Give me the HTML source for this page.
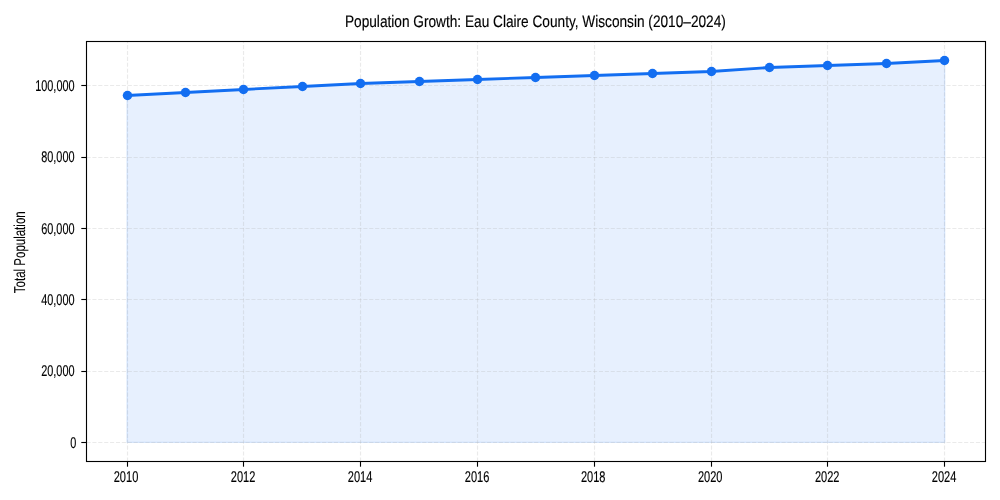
<!DOCTYPE html>
<html><head><meta charset="utf-8"><title>Population Growth</title>
<style>
html,body{margin:0;padding:0;background:#fff;}
body{width:1000px;height:500px;overflow:hidden;}
svg{display:block;will-change:transform;}
text{font-family:"Liberation Sans",sans-serif;fill:#000;stroke:#000;stroke-width:0.15px;text-rendering:geometricPrecision;}
</style></head><body>
<svg width="1000" height="500" viewBox="0 0 1000 500">
<rect x="0" y="0" width="1000" height="500" fill="#ffffff"/>
<polygon points="127.05,442.40 127.05,95.50 185.45,92.50 243.85,89.50 302.25,86.50 360.65,83.50 419.05,81.50 477.45,79.50 535.85,77.50 594.25,75.50 652.65,73.50 711.05,71.50 769.45,67.50 827.85,65.50 886.25,63.50 944.65,60.50 944.65,442.40" fill="#136ef1" fill-opacity="0.1" stroke="#136ef1" stroke-opacity="0.13" stroke-width="1.39" stroke-linejoin="miter"/>
<g stroke="#b0b0b0" stroke-opacity="0.27" stroke-width="1.11" stroke-dasharray="4.11 1.78" fill="none">
<line x1="127.5" y1="461.5" x2="127.5" y2="41.5"/>
<line x1="243.5" y1="461.5" x2="243.5" y2="41.5"/>
<line x1="360.5" y1="461.5" x2="360.5" y2="41.5"/>
<line x1="477.5" y1="461.5" x2="477.5" y2="41.5"/>
<line x1="594.5" y1="461.5" x2="594.5" y2="41.5"/>
<line x1="711.5" y1="461.5" x2="711.5" y2="41.5"/>
<line x1="827.5" y1="461.5" x2="827.5" y2="41.5"/>
<line x1="944.5" y1="461.5" x2="944.5" y2="41.5"/>
<line x1="86.5" y1="442.5" x2="985.5" y2="442.5"/>
<line x1="86.5" y1="371.5" x2="985.5" y2="371.5"/>
<line x1="86.5" y1="299.5" x2="985.5" y2="299.5"/>
<line x1="86.5" y1="228.5" x2="985.5" y2="228.5"/>
<line x1="86.5" y1="157.5" x2="985.5" y2="157.5"/>
<line x1="86.5" y1="85.5" x2="985.5" y2="85.5"/>
</g>
<polyline points="127.05,95.50 185.45,92.50 243.85,89.50 302.25,86.50 360.65,83.50 419.05,81.50 477.45,79.50 535.85,77.50 594.25,75.50 652.65,73.50 711.05,71.50 769.45,67.50 827.85,65.50 886.25,63.50 944.65,60.50" fill="none" stroke="#136ef1" stroke-width="2.78" stroke-linejoin="round" stroke-linecap="butt"/>
<circle cx="127.5" cy="95.5" r="4.75" fill="#136ef1"/>
<circle cx="185.5" cy="92.5" r="4.75" fill="#136ef1"/>
<circle cx="243.5" cy="89.5" r="4.75" fill="#136ef1"/>
<circle cx="302.5" cy="86.5" r="4.75" fill="#136ef1"/>
<circle cx="360.5" cy="83.5" r="4.75" fill="#136ef1"/>
<circle cx="419.5" cy="81.5" r="4.75" fill="#136ef1"/>
<circle cx="477.5" cy="79.5" r="4.75" fill="#136ef1"/>
<circle cx="535.5" cy="77.5" r="4.75" fill="#136ef1"/>
<circle cx="594.5" cy="75.5" r="4.75" fill="#136ef1"/>
<circle cx="652.5" cy="73.5" r="4.75" fill="#136ef1"/>
<circle cx="711.5" cy="71.5" r="4.75" fill="#136ef1"/>
<circle cx="769.5" cy="67.5" r="4.75" fill="#136ef1"/>
<circle cx="827.5" cy="65.5" r="4.75" fill="#136ef1"/>
<circle cx="886.5" cy="63.5" r="4.75" fill="#136ef1"/>
<circle cx="944.5" cy="60.5" r="4.75" fill="#136ef1"/>
<rect x="86.5" y="41.5" width="899.0" height="420.0" fill="none" stroke="#000" stroke-width="1.11"/>
<g stroke="#000" stroke-width="1.11">
<line x1="127.5" y1="461.5" x2="127.5" y2="466.70"/>
<line x1="243.5" y1="461.5" x2="243.5" y2="466.70"/>
<line x1="360.5" y1="461.5" x2="360.5" y2="466.70"/>
<line x1="477.5" y1="461.5" x2="477.5" y2="466.70"/>
<line x1="594.5" y1="461.5" x2="594.5" y2="466.70"/>
<line x1="711.5" y1="461.5" x2="711.5" y2="466.70"/>
<line x1="827.5" y1="461.5" x2="827.5" y2="466.70"/>
<line x1="944.5" y1="461.5" x2="944.5" y2="466.70"/>
<line x1="86.5" y1="442.5" x2="81.30" y2="442.5"/>
<line x1="86.5" y1="371.5" x2="81.30" y2="371.5"/>
<line x1="86.5" y1="299.5" x2="81.30" y2="299.5"/>
<line x1="86.5" y1="228.5" x2="81.30" y2="228.5"/>
<line x1="86.5" y1="157.5" x2="81.30" y2="157.5"/>
<line x1="86.5" y1="85.5" x2="81.30" y2="85.5"/>
</g>
<text transform="translate(126.00,481.85) scale(0.795,1.12)" font-size="13.89" text-anchor="middle">2010</text>
<text transform="translate(243.10,481.85) scale(0.795,1.12)" font-size="13.89" text-anchor="middle">2012</text>
<text transform="translate(360.05,481.85) scale(0.795,1.12)" font-size="13.89" text-anchor="middle">2014</text>
<text transform="translate(477.05,481.85) scale(0.795,1.12)" font-size="13.89" text-anchor="middle">2016</text>
<text transform="translate(593.15,481.85) scale(0.795,1.12)" font-size="13.89" text-anchor="middle">2018</text>
<text transform="translate(710.15,481.85) scale(0.795,1.12)" font-size="13.89" text-anchor="middle">2020</text>
<text transform="translate(827.15,481.85) scale(0.795,1.12)" font-size="13.89" text-anchor="middle">2022</text>
<text transform="translate(944.05,481.85) scale(0.795,1.12)" font-size="13.89" text-anchor="middle">2024</text>
<text transform="translate(74.55,90.85) scale(0.785,1.12)" font-size="13.89" text-anchor="end">100,000</text>
<text transform="translate(74.55,161.85) scale(0.785,1.12)" font-size="13.89" text-anchor="end">80,000</text>
<text transform="translate(74.55,233.85) scale(0.785,1.12)" font-size="13.89" text-anchor="end">60,000</text>
<text transform="translate(74.55,304.85) scale(0.785,1.12)" font-size="13.89" text-anchor="end">40,000</text>
<text transform="translate(74.55,375.85) scale(0.785,1.12)" font-size="13.89" text-anchor="end">20,000</text>
<text transform="translate(76.2,447.85) scale(0.785,1.12)" font-size="13.89" text-anchor="end">0</text>
<text transform="translate(24.9,252.25) rotate(-90) scale(0.829,1.14)" font-size="13.89" text-anchor="middle" style="stroke-width:0.1px">Total Population</text>
<text transform="translate(535.4,26.7) scale(0.82,1.0)" font-size="16.67" text-anchor="middle">Population Growth: Eau Claire County, Wisconsin (2010–2024)</text>
</svg>
</body></html>
